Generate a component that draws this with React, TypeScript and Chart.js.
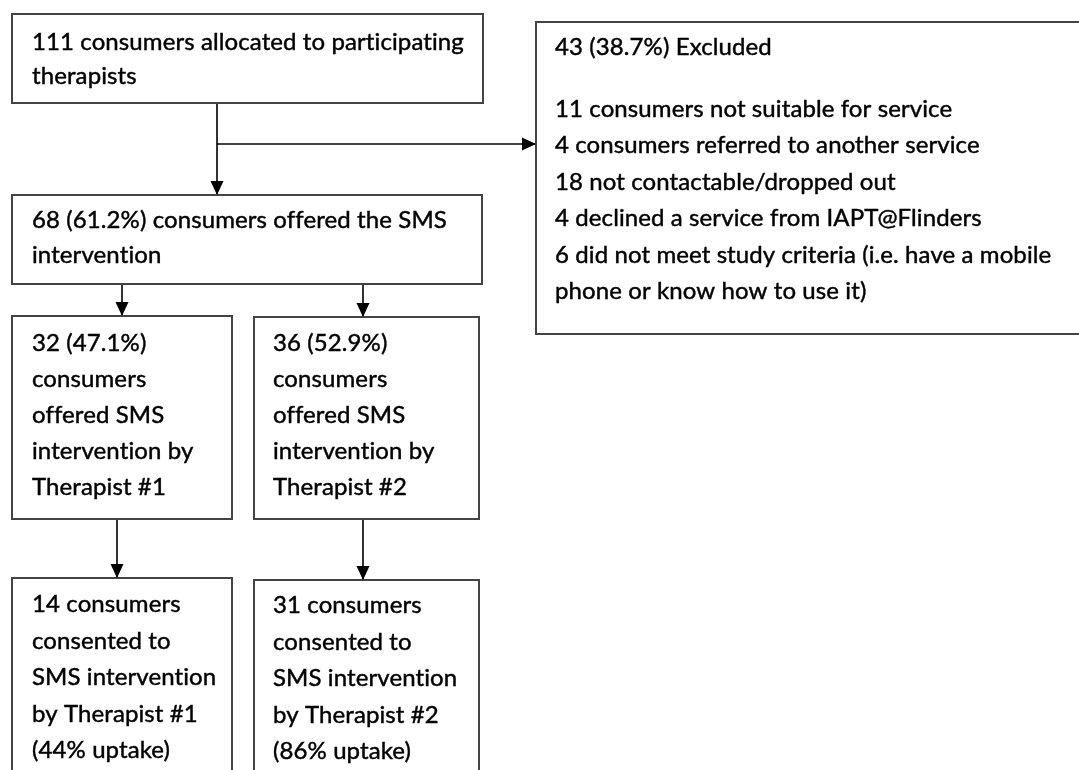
import React, { useEffect, useRef } from "react";
import { Chart, registerables } from "chart.js";

Chart.register(...registerables);

// ---- Text content of each box ----
const allocatedLines = ["111 consumers allocated to participating", "therapists"];
const excludedLines = [
  "43 (38.7%) Excluded",
  "11 consumers not suitable for service",
  "4 consumers referred to another service",
  "18 not contactable/dropped out",
  "4 declined a service from IAPT@Flinders",
  "6 did not meet study criteria (i.e. have a mobile",
  "phone or know how to use it)",
];
const offeredLines = ["68 (61.2%) consumers offered the SMS", "intervention"];
const therapist1OfferedLines = ["32 (47.1%)", "consumers", "offered SMS", "intervention by", "Therapist #1"];
const therapist2OfferedLines = ["36 (52.9%)", "consumers", "offered SMS", "intervention by", "Therapist #2"];
const therapist1ConsentLines = ["14 consumers", "consented to", "SMS intervention", "by Therapist #1", "(44% uptake)"];
const therapist2ConsentLines = ["31 consumers", "consented to", "SMS intervention", "by Therapist #2", "(86% uptake)"];

// ---- Layout (diagram coordinates, in scale units) ----
type Box = { lines: string[]; x0: number; y0: number; x1: number; y1: number; tx: number; baselines: number[] };

const pitch = (first: number, step: number, n: number) => {
  const out: number[] = [];
  for (let i = 0; i < n; i++) out.push(first + i * step);
  return out;
};

const boxes: Box[] = [
  { lines: allocatedLines, x0: 12, y0: 14, x1: 483, y1: 103, tx: 32, baselines: pitch(49.5, 34, 2) },
  {
    lines: excludedLines, x0: 536, y0: 22, x1: 1085, y1: 334, tx: 555,
    baselines: [55, ...pitch(117, 36.4, 6)],
  },
  { lines: offeredLines, x0: 12, y0: 195, x1: 482, y1: 284, tx: 32, baselines: pitch(228, 35, 2) },
  { lines: therapist1OfferedLines, x0: 12, y0: 316, x1: 232, y1: 519, tx: 32, baselines: pitch(351, 36, 5) },
  { lines: therapist2OfferedLines, x0: 254, y0: 317, x1: 479, y1: 519, tx: 273, baselines: pitch(351, 36, 5) },
  { lines: therapist1ConsentLines, x0: 12, y0: 578, x1: 232, y1: 800, tx: 32, baselines: pitch(612, 36.5, 5) },
  { lines: therapist2ConsentLines, x0: 254, y0: 580, x1: 479, y1: 800, tx: 273, baselines: pitch(613, 36.5, 5) },
];

const connectors: { x: number; y: number }[][] = [
  [{ x: 217, y: 103 }, { x: 217, y: 195 }],
  [{ x: 217, y: 144 }, { x: 536, y: 144 }],
  [{ x: 122, y: 284 }, { x: 122, y: 316 }],
  [{ x: 363, y: 284 }, { x: 363, y: 317 }],
  [{ x: 117, y: 519 }, { x: 117, y: 578 }],
  [{ x: 363, y: 519 }, { x: 363, y: 580 }],
];

const FONT = '24px Lato, "Open Sans", sans-serif';

const flowPlugin = {
  id: "flow",
  afterDatasetsDraw(chart: any) {
    const { ctx, scales } = chart;
    const X = (v: number) => scales.x.getPixelForValue(v);
    const Y = (v: number) => scales.y.getPixelForValue(v);
    ctx.save();
    // boxes
    for (const b of boxes) {
      ctx.strokeStyle = "#444";
      ctx.lineWidth = 2;
      ctx.strokeRect(X(b.x0), Y(b.y0), X(b.x1) - X(b.x0), Y(b.y1) - Y(b.y0));
      ctx.fillStyle = "#000";
      ctx.strokeStyle = "#000";
      ctx.lineWidth = 0.45;
      ctx.font = FONT;
      try {
        (ctx as any).letterSpacing = "0.1px";
      } catch (e) {
        /* ignore */
      }
      ctx.textBaseline = "alphabetic";
      ctx.textAlign = "left";
      b.lines.forEach((t, i) => {
        ctx.fillText(t, X(b.tx), Y(b.baselines[i]));
        ctx.strokeText(t, X(b.tx), Y(b.baselines[i]));
      });
      (ctx as any).letterSpacing = "0px";
    }
    // arrowheads
    ctx.fillStyle = "#000";
    for (const c of connectors) {
      const a = c[c.length - 2];
      const e = c[c.length - 1];
      const ex = X(e.x), ey = Y(e.y);
      const ang = Math.atan2(ey - Y(a.y), ex - X(a.x));
      const len = 14, hw = 6.5;
      ctx.beginPath();
      ctx.moveTo(ex, ey);
      ctx.lineTo(ex - len * Math.cos(ang) + hw * Math.sin(ang), ey - len * Math.sin(ang) - hw * Math.cos(ang));
      ctx.lineTo(ex - len * Math.cos(ang) - hw * Math.sin(ang), ey - len * Math.sin(ang) + hw * Math.cos(ang));
      ctx.closePath();
      ctx.fill();
    }
    ctx.restore();
  },
};

export default function App() {
  const ref = useRef<HTMLCanvasElement>(null);
  useEffect(() => {
    if (!ref.current) return;
    const chart = new Chart(ref.current, {
      type: "scatter",
      data: {
        datasets: connectors.map((c) => ({
          data: c,
          showLine: true,
          borderColor: "#000",
          borderWidth: 1.6,
          pointRadius: 0,
          clip: false as any,
        })),
      },
      options: {
        animation: false,
        responsive: false,
        devicePixelRatio: 1,
        layout: { padding: 0 },
        plugins: { legend: { display: false }, tooltip: { enabled: false } },
        scales: {
          x: { type: "linear", min: 0, max: 1079, display: false },
          y: { type: "linear", min: 0, max: 770, reverse: true, display: false },
        },
      },
      plugins: [flowPlugin],
    });
    return () => chart.destroy();
  }, []);
  return (
    <div style={{ position: "fixed", left: 0, top: 0, width: 1079, height: 770, background: "#fff" }}>
      <canvas ref={ref} width={1079} height={770} />
    </div>
  );
}
